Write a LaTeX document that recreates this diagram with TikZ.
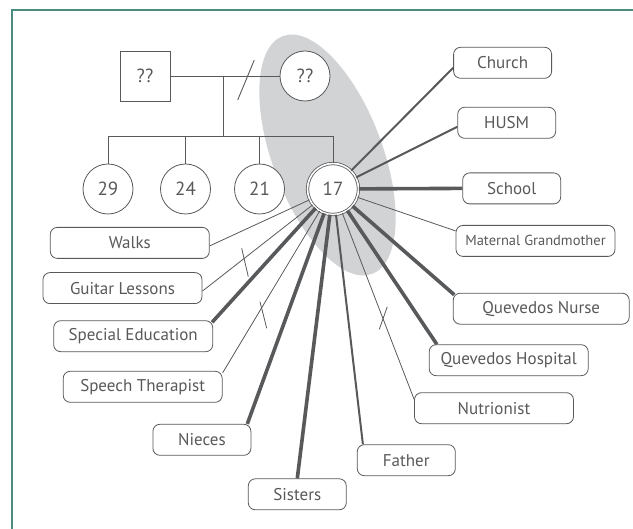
\documentclass[tikz,border=0pt]{standalone}
\usepackage{fontspec}
\setmainfont{PT Sans}
\usepackage{xcolor}
\usepackage{tikz}
\usetikzlibrary{calc}

\definecolor{framegreen}{HTML}{4B8B80}
\definecolor{inkgray}{HTML}{58595B}
\definecolor{shadegray}{HTML}{D1D3D4}

\begin{document}
\begin{tikzpicture}[
    x=1pt, y=-1pt,
    person/.style={circle, draw=inkgray, fill=white, line width=0.8pt, minimum size=50pt, inner sep=0pt, text=inkgray, font=\fontsize{19}{22}\selectfont},
    maleperson/.style={person, rectangle},
    focusperson/.style={person, double=white, double distance=1.6pt, minimum size=51pt},
    linkbox/.style={rectangle, rounded corners=7pt, draw=inkgray, fill=white, line width=0.8pt, minimum width=98pt, minimum height=31pt, inner sep=2pt, text=inkgray, font=\fontsize{17}{20}\selectfont},
    widebox/.style={linkbox, minimum width=159pt},
    famline/.style={draw=inkgray, line width=0.9pt},
    weaklink/.style={draw=inkgray, line width=0.8pt},
    midlink/.style={draw=inkgray, line width=2pt},
    stronglink/.style={draw=inkgray, line width=3.6pt}
]
\useasboundingbox (0,0) rectangle (633,529);
\draw[framegreen, line width=1.5pt] (11.8,529) -- (11.8,10) -- (633,10);

\fill[shadegray, rotate around={20.6:(327.5,155)}] (327.5,155) ellipse [x radius=55, y radius=127];

\node[maleperson] (dad) at (145,76) {??};
\node[person] (mom) at (305,76) {??};
\node[person] (c29) at (108,189) {29};
\node[person] (c24) at (185.5,189) {24};
\node[person] (c21) at (259.5,189) {21};
\node[focusperson] (c17) at (333,189) {17};

\coordinate (union) at (223,76);
\coordinate (sibs) at (223,136.6);

\draw[famline] (dad) -- (mom);
\draw[famline] (union) -- (sibs);
\draw[famline] (c29.north) -- (c29.north |- sibs) -- (c17.north |- sibs) -- (c17.north);
\draw[famline] (c24.north) -- (c24.north |- sibs);
\draw[famline] (c21.north) -- (c21.north |- sibs);
\draw[famline] (237.7,100) -- (254.3,60);

\node[linkbox] (church) at (502.6,62.8) {Church};
\node[linkbox] (husm) at (506.7,122.8) {HUSM};
\node[linkbox] (school) at (511.7,188.4) {School};
\node[widebox, font=\fontsize{14.5}{17}\selectfont] (grandma) at (535.5,240.9) {Maternal Grandmother};
\node[linkbox, minimum width=176pt] (nurse) at (541.2,308.7) {Quevedos Nurse};
\node[widebox] (hospital) at (508.7,360.2) {Quevedos Hospital};
\node[widebox] (nutri) at (494,408.2) {Nutrionist};
\node[linkbox] (father) at (406.3,460.2) {Father};
\node[linkbox] (sisters) at (297.3,494.3) {Sisters};
\node[linkbox] (nieces) at (201.9,439.8) {Nieces};
\node[widebox] (speech) at (142.7,386.8) {Speech Therapist};
\node[widebox] (sped) at (133.2,336.2) {Special Education};
\node[widebox] (guitar) at (122.5,288.1) {Guitar Lessons};
\node[widebox] (walks) at (129.8,242.9) {Walks};

\draw[midlink] (c17) -- ($(church.west)+(0,5)$);
\draw[midlink] (c17) -- ($(husm.west)+(0,4)$);
\draw[stronglink] (c17) -- (school.west);
\draw[weaklink] (c17) -- ($(grandma.west)+(0,-10)$);
\draw[stronglink] (c17) -- ($(nurse.north west)+(1.5,2)$);
\draw[stronglink] (c17) -- ($(hospital.north west)+(8,0)$);
\draw[weaklink] (c17) -- ($(nutri.north west)+(0,7)$);
\draw[midlink] (c17) -- ($(father.north west)+(6,0)$);
\draw[stronglink] (c17) -- (sisters.north);
\draw[stronglink] (c17) -- ($(nieces.north east)+(-4,0)$);
\draw[weaklink] (c17) -- ($(speech.north east)+(0,2)$);
\draw[stronglink] (c17) -- ($(sped.north east)+(-1,2)$);
\draw[weaklink] (c17) -- ($(guitar.east)+(0,3)$);
\draw[weaklink] (c17) -- ($(walks.east)+(0,3)$);

\draw[weaklink] (241.7,248.3) -- (248.3,276.7);
\draw[weaklink] (260,301.7) -- (266.7,328.3);
\draw[weaklink] (379.3,329.3) -- (387.3,306.7);

\end{tikzpicture}
\end{document}
